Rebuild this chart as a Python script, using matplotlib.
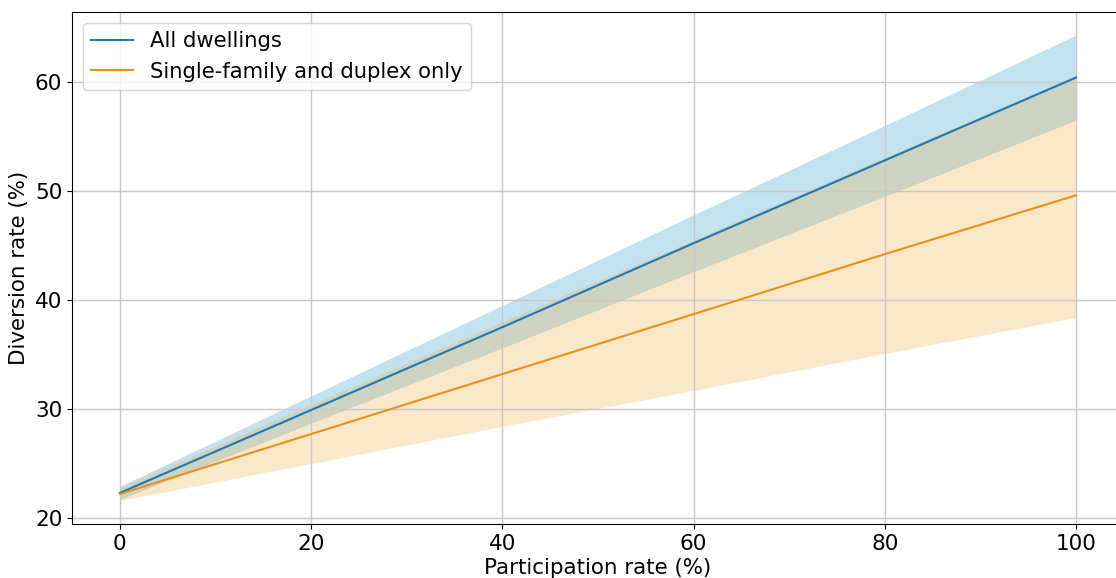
import matplotlib
matplotlib.use("Agg")
import matplotlib.pyplot as plt

participation = [0, 20, 40, 60, 80, 100]
all_mean = [22.3, 29.9, 37.5, 45.2, 52.8, 60.4]
all_upper = [22.9, 31.2, 39.5, 47.8, 56.0, 64.3]
all_lower = [21.7, 28.7, 35.6, 42.6, 49.5, 56.5]
sf_mean = [22.2, 27.7, 33.2, 38.7, 44.2, 49.6]
sf_upper = [22.8, 30.4, 38.0, 45.5, 53.1, 60.6]
sf_lower = [21.6, 25.0, 28.4, 31.7, 35.1, 38.4]
labels = ["All dwellings", "Single-family and duplex only"]

fig = plt.figure(figsize=(11.16, 5.78), dpi=100)
ax = fig.add_axes([0.0645, 0.0934, 0.9425, 0.8856])

ax.plot(participation, all_mean, color="#1f77b4", lw=1.5, label=labels[0])
ax.fill_between(participation, all_lower, all_upper, color="#3a9fd0", alpha=0.3, lw=0)
ax.plot(participation, sf_mean, color="#e8911c", lw=1.5, label=labels[1])
ax.fill_between(participation, sf_lower, sf_upper, color="#eeaa40", alpha=0.27, lw=0)

ax.set_xlim(-5, 105)
ax.set_ylim(19.45, 66.4)
ax.set_xticks([0, 20, 40, 60, 80, 100])
ax.set_yticks([20, 30, 40, 50, 60])
ax.grid(True, color="#c8c8c8", lw=1.0)
ax.tick_params(labelsize=15.5)
ax.set_xlabel("Participation rate (%)", fontsize=15.4, labelpad=3)
ax.set_ylabel("Diversion rate (%)", fontsize=15.4)
ax.legend(loc="upper left", fontsize=15.2, handlelength=2.0, borderpad=0.4)

fig.savefig("out.png", dpi=100)
